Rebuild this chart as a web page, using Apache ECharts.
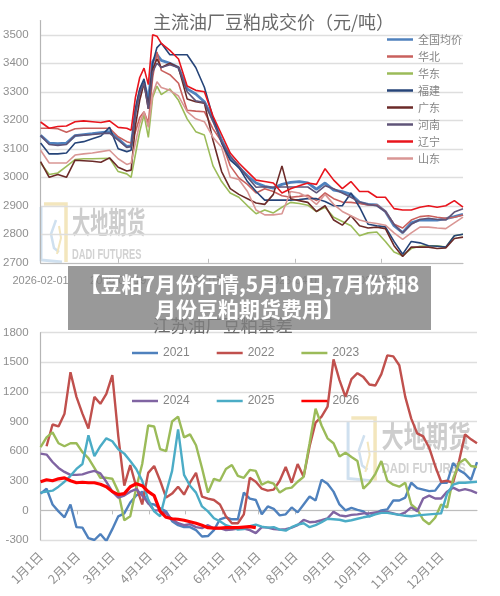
<!DOCTYPE html>
<html>
<head>
<meta charset="utf-8">
<script src="https://cdn.jsdelivr.net/npm/echarts@6/dist/echarts.min.js"></script>
<style>
html,body{margin:0;padding:0;background:#fff;overflow:hidden}
#main{position:absolute;left:0;top:0;width:500px;height:596px}
#banner{position:absolute;left:68px;top:266px;width:363px;height:64px;background:rgba(128,128,128,.8);color:#fff;
font:bold 21px/25px "Noto Sans CJK SC",sans-serif;text-align:center;padding-top:5px;box-sizing:border-box;white-space:nowrap}
</style>
</head>
<body>
<div id="main"></div>
<div id="banner">【豆粕7月份行情,5月10日,7月份和8<br>月份豆粕期货费用】</div>
<script>
// top chart: days counted from 2026-02-01, daily around the late-February jump
var priceDays = [0,2,4,6,8,10,12,14,16,18,
  20,21,22,23,24,25,26,27,28,
  30,32,34,36,38,40,42,44,46,48,50,52,54,56,58,60,
  62,64,66,68,70,72,74,76,78,80,82,84,86,88,90,92,94,96,98];
var priceNames = ['全国均价','华北','华东','福建','广东','河南','辽宁','山东'];
var priceColors = ['#4f81bd','#c9605d','#9bbb59','#264478','#6b2a28','#5f5478','#e8141c','#d99694'];
var priceWidths = [2.8,1.6,1.6,1.6,1.6,1.6,1.6,1.6];
var avgPrice = [3147,3120,3118,3120,3146,3150,3153,3157,3160,3135,
  3108,3110,3230,3300,3335,3270,3405,3430,3410,
  3400,3385,3310,3292,3265,
  3205,3130,3070,3035,3005,2980,2968,2962,2975,2982,
  2985,2980,2958,2980,2955,2950,2940,2912,2905,2903,
  2880,2830,2806,2840,2850,2850,2850,2855,2862,2870];
var huabei = [3172,3172,3170,3158,3170,3172,3172,3172,3172,3142,
  3125,3120,3160,3210,3230,3190,3350,3440,3375,
  3360,3330,3235,3232,3230,
  3170,3125,3040,2998,2975,2945,2960,2950,2935,2930,
  2933,2937,2918,2945,2925,2913,2912,2908,2903,2903,
  2880,2835,2822,2850,2862,2865,2860,2856,2860,2868];
var huadong = [3050,3010,3015,3038,3062,3065,3065,3066,3067,3020,
  3012,3000,3080,3160,3220,3140,3280,3320,3290,
  3310,3270,3205,3160,3148,
  3040,2985,2945,2930,2900,2872,2885,2875,2895,2912,
  2908,2902,2880,2895,2860,2845,2830,2795,2805,2808,
  2775,2738,2725,2750,2758,2760,2760,2755,2795,2800];
var fujian = [3120,3082,3082,3085,3120,3125,3135,3145,3175,3100,
  3090,3095,3240,3310,3345,3250,3400,3455,3470,
  3430,3430,3430,3385,3316,
  3210,3120,3060,3035,2985,2950,2920,2920,2920,2920,
  2922,2925,2925,2915,2900,2900,2945,2895,2835,2830,
  2826,2775,2730,2775,2770,2760,2758,2755,2795,2800];
var guangdong = [3055,3000,3010,3000,3060,3058,3056,3053,3068,3035,
  3022,3025,3180,3270,3330,3240,3380,3415,3385,
  3400,3385,3275,3265,3260,
  3130,3020,2960,2940,2925,2910,2905,2940,3040,2925,
  2918,2912,2880,2900,2850,2832,2865,2830,2822,2825,
  2820,2760,2722,2755,2755,2755,2750,2752,2785,2790];
var henan = [3147,3115,3112,3115,3146,3148,3150,3153,3155,3130,
  3105,3108,3225,3295,3330,3240,3370,3400,3385,
  3395,3385,3300,3268,3262,
  3195,3125,3075,3040,3000,2965,2967,2965,2966,2966,
  2966,2966,2945,2970,2960,2945,2930,2913,2905,2900,
  2880,2835,2805,2835,2852,2856,2852,2850,2878,2890];
var liaoning = [3194,3172,3178,3180,3195,3198,3195,3192,3198,3175,
  3172,3165,3280,3350,3383,3325,3500,3495,3470,
  3445,3415,3320,3305,3300,
  3215,3150,3085,3050,3020,2990,2985,2980,2945,2960,
  2970,2980,2975,3030,2990,2960,2985,2950,2950,2930,
  2930,2890,2885,2885,2895,2900,2895,2900,2918,2895];
var shandong = [3095,3050,3050,3050,3078,3082,3085,3090,3095,3065,
  3045,3050,3120,3190,3230,3175,3290,3335,3315,
  3305,3285,3230,3205,3195,
  3140,3105,3000,2992,2950,2885,2868,2868,2872,2950,
  2945,2930,2905,2940,2905,2880,2865,2850,2842,2838,
  2832,2805,2782,2805,2825,2825,2822,2820,2840,2860];
var priceSeries = [avgPrice,huabei,huadong,fujian,guangdong,henan,liaoning,shandong];
var priceTickDays = [0,18,39,59,79];
var priceTickLabels = ['2026-02-01','2026-02-19','2026-03-12','2026-04-01','2026-04-21'];

// bottom chart: basis sampled every 5 days through the year
var years = ['2021','2022','2023','2024','2025','2026'];
var yearColors = ['#4f81bd','#c0504d','#9bbb59','#8064a2','#4bacc6','#ff0000'];
var basisDays = [0,5,10,15,20,25,30,35,40,45,50,55,60,65,70,75,80,85,90,95,100,105,110,115,120,
  125,130,135,140,145,150,155,160,165,170,175,180,185,190,195,200,205,210,215,220,225,230,235,240,
  245,250,255,260,265,270,275,280,285,290,295,300,305,310,315,320,325,330,335,340,345,350,355,360,365];
var basis2021 = [170,220,60,-10,-70,60,-170,-175,-280,-300,
  -240,-310,-190,-60,-30,80,150,190,70,60,
  20,-10,-110,-150,-170,-170,-200,-265,-260,-200,
  -90,-70,-90,-90,180,120,105,-40,40,15,
  -50,-40,30,-20,60,140,100,310,270,190,
  60,0,25,5,-10,-60,-30,0,10,100,
  100,130,280,225,210,195,200,280,280,480,
  410,370,310,490];
var basis2022 = [null,650,870,850,980,1400,1150,980,830,1150,
  1080,1180,1370,750,250,460,240,60,380,450,
  300,130,170,240,160,280,380,140,120,105,
  60,-60,-130,-130,-40,330,290,220,200,210,
  300,440,280,470,340,650,890,950,1050,1530,
  1320,1150,1330,1390,1350,1275,1265,1380,1570,1560,
  1470,1150,930,780,750,635,450,290,300,280,
  500,770,720,680];
var basis2023 = [640,740,790,680,650,680,680,590,530,430,
  330,330,320,190,-100,-60,230,470,860,850,
  620,600,900,950,740,770,660,430,180,320,
  300,420,460,350,330,410,400,260,290,270,
  180,220,230,290,340,680,1030,860,730,680,
  545,585,540,500,220,280,370,500,300,260,
  240,280,60,10,-95,-140,-75,60,30,320,
  480,520,450,440];
var basis2024 = [575,565,490,430,390,360,360,365,385,400,
  375,290,190,130,150,190,215,150,75,0,
  0,-30,-90,-130,-150,-140,-170,-180,-150,-185,
  -180,-200,-195,-185,-185,-200,-230,-170,-175,-190,
  -195,-190,-175,-150,-95,-120,-115,-100,-80,-15,
  -50,-60,-45,-40,-30,-30,-20,-15,-15,-30,
  -45,-20,30,-10,120,150,120,120,190,230,
  200,215,200,175];
var basis2025 = [180,190,200,240,290,350,420,470,760,550,
  650,730,700,620,575,500,420,300,110,-10,
  -60,180,400,820,360,250,180,40,-10,-80,
  -110,-150,-170,-195,-190,-160,-145,-165,-175,-170,
  -195,-205,-170,-145,-130,-170,-150,-120,-85,-90,
  -95,-110,-100,-85,-70,-60,-40,-25,-25,-35,
  -45,-55,-60,-50,-45,-40,-35,-30,170,260,
  280,280,285,290];
var basis2026 = [290,310,300,320,330,300,280,285,280,280,
  265,240,190,160,170,240,270,250,190,150,
  -10,-70,-85,-90,-100,-115,-130,-150,-175,-180,
  -180,-175,-175,-175,-170,-165,-175];
var basisSeries = [basis2021,basis2022,basis2023,basis2024,basis2025,basis2026];
var monthDays = [0,31,60,91,121,152,182,213,244,274,305,335];
var monthLabels = ['1月1日','2月1日','3月1日','4月1日','5月1日','6月1日','7月1日','8月1日','9月1日','10月1日','11月1日','12月1日'];

var LABEL_FONT = 'Liberation Sans';
var GRAY = '#8f8f8f';

function pairs(days, values) {
  var res = [];
  for (var i = 0; i < values.length; i++) {
    res.push([days[i], values[i]]);
  }
  return res;
}

function logoAndText(x, y, s, sx) {
  // faded company watermark behind the plots
  var els = [];
  var line = function (pts, color, w) {
    var p = [];
    for (var i = 0; i < pts.length; i++) p.push([x + pts[i][0] * s, y + pts[i][1] * s]);
    els.push({type: 'polyline', z: 0, silent: true, shape: {points: p, smooth: 0},
      style: {stroke: color, lineWidth: w, fill: null}});
  };
  line([[4,0],[26,0],[26,58]], '#f3e6bd', 3.5);
  line([[1,3],[1,56],[22,58]], '#cfe0ef', 3);
  line([[16,16],[11,30],[14,44],[19,48]], '#cfe0ef', 2.5);
  line([[19,22],[21,34],[17,50]], '#f3e6bd', 2);
  els.push({type: 'text', z: 0, silent: true, x: x + 32 * s, y: y + 3, scaleX: sx,
    style: {text: '大地期货', fill: '#cdcdcd', font: 'bold 30px "Noto Sans CJK SC"'}});
  els.push({type: 'text', z: 0, silent: true, x: x + 32 * s, y: y + 43, scaleX: sx * 1.02,
    style: {text: 'DADI FUTURES', fill: '#d2d2d2', font: 'bold 15px "Liberation Sans"'}});
  return els;
}

var chart = echarts.init(document.getElementById('main'), null, {renderer: 'canvas'});

var series = [];
for (var i = 0; i < priceNames.length; i++) {
  series.push({
    name: priceNames[i], type: 'line', xAxisIndex: 0, yAxisIndex: 0,
    data: pairs(priceDays, priceSeries[i]), symbol: 'none', animation: false, silent: true,
    itemStyle: {color: priceColors[i]},
    lineStyle: {color: priceColors[i], width: priceWidths[i]}
  });
}
for (var j = 0; j < years.length; j++) {
  series.push({
    name: years[j], type: 'line', xAxisIndex: 1, yAxisIndex: 1,
    data: pairs(basisDays, basisSeries[j]), symbol: 'none', animation: false, silent: true,
    itemStyle: {color: yearColors[j]},
    lineStyle: {color: yearColors[j], width: j == 5 ? 3.2 : 2.4}
  });
}

var legendText = {color: '#858585', fontSize: 11, fontFamily: 'Noto Sans CJK SC'};
var yearLegendText = {color: '#858585', fontSize: 12, fontFamily: LABEL_FONT};
var plainNumber = function (v) { return String(v); };

chart.setOption({
  animation: false,
  title: [
    {text: '主流油厂豆粕成交价（元/吨）', left: 153, top: 13, padding: 0,
      textStyle: {color: '#6a6a6a', fontSize: 18, fontWeight: 'normal', fontFamily: 'Noto Sans CJK SC'}},
    {text: '江苏油厂豆粕基差', left: 153, top: 317, padding: 0,
      textStyle: {color: '#6a6a6a', fontSize: 17.5, fontWeight: 'normal', fontFamily: 'Noto Sans CJK SC'}}
  ],
  legend: [
    {data: priceNames, orient: 'vertical', left: 387, top: 34, padding: 0, icon: 'rect', itemWidth: 26, itemHeight: 2.5, itemGap: 6,
      textStyle: legendText},
    {data: years.slice(0, 3), left: 132, top: 347, padding: 0, icon: 'rect', itemWidth: 26, itemHeight: 2.5, itemGap: 27, textStyle: yearLegendText},
    {data: years.slice(3), left: 132, top: 395, padding: 0, icon: 'rect', itemWidth: 26, itemHeight: 2.5, itemGap: 27, textStyle: yearLegendText}
  ],
  grid: [
    {left: 40.5, width: 422.5, top: 20.5, height: 242.3},
    {left: 40.5, width: 436.5, top: 332.7, height: 207.3}
  ],
  xAxis: [
    {gridIndex: 0, type: 'value', min: 0, max: 98, splitLine: {show: false},
      axisLine: {onZero: false, lineStyle: {color: '#bdbdbd', width: 1.2}},
      axisTick: {inside: true, length: 4, customValues: priceTickDays, lineStyle: {color: '#bdbdbd'}},
      axisLabel: {customValues: priceTickDays, color: GRAY, fontSize: 11, fontFamily: LABEL_FONT, margin: 13,
        formatter: function (v) { return priceTickLabels[priceTickDays.indexOf(v)]; }}},
    {gridIndex: 1, type: 'value', min: 0, max: 365, splitLine: {show: false},
      axisLine: {show: false, onZero: false}, axisTick: {show: false},
      axisLabel: {customValues: monthDays, rotate: 45, color: GRAY, fontSize: 12.5, fontFamily: 'Noto Sans CJK SC', margin: 14,
        formatter: function (v) { return monthLabels[monthDays.indexOf(v)]; }}},
    {gridIndex: 1, type: 'value', min: 0, max: 365, splitLine: {show: false},
      axisLine: {onZero: true, onZeroAxisIndex: 1, lineStyle: {color: '#bdbdbd', width: 1.2}},
      axisTick: {inside: true, length: 4, customValues: monthDays, lineStyle: {color: '#bdbdbd'}},
      axisLabel: {show: false}}
  ],
  yAxis: [
    {gridIndex: 0, type: 'value', min: 2700, max: 3550, interval: 100,
      axisLine: {show: true, lineStyle: {color: '#b5b5b5', width: 1.2}}, axisTick: {show: false},
      splitLine: {showMaxLine: false, lineStyle: {color: '#dedede', width: 1.4}},
      axisLabel: {showMaxLabel: false, color: GRAY, fontSize: 11.5, fontFamily: LABEL_FONT, margin: 12, formatter: plainNumber}},
    {gridIndex: 1, type: 'value', min: -300, max: 1800, interval: 300,
      axisLine: {show: true, onZero: false, lineStyle: {color: '#b5b5b5', width: 1.2}}, axisTick: {show: false},
      splitLine: {lineStyle: {color: '#dedede', width: 1.4}},
      axisLabel: {color: GRAY, fontSize: 11.5, fontFamily: LABEL_FONT, margin: 12, formatter: plainNumber}}
  ],
  graphic: logoAndText(40, 204, 1, 0.61).concat(logoAndText(347, 418, 1.08, 0.74)),
  series: series
});
</script>
</body>
</html>
